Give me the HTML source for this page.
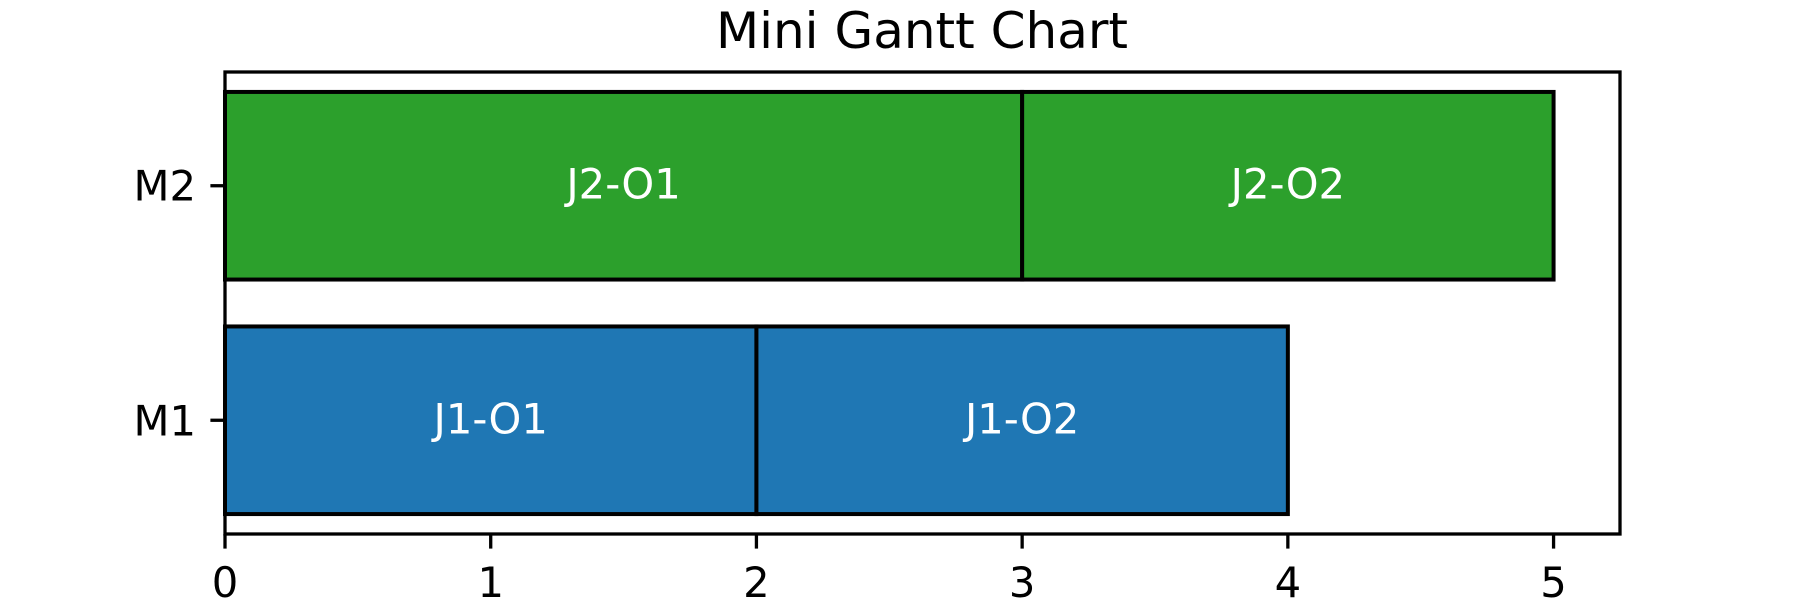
<!DOCTYPE html>
<html><head><meta charset="utf-8"><style>body{margin:0;background:#fff}svg{display:block}text{font-family:"DejaVu Sans","Liberation Sans",sans-serif}</style></head>
<body>
<svg id="chart" width="1800" height="600" viewBox="0 0 1800 600" xmlns="http://www.w3.org/2000/svg">
<text x="922" y="48" font-size="50" text-anchor="middle">Mini Gantt Chart</text>
<g id="bars"></g>
<rect x="225" y="72" width="1395" height="462" fill="none" stroke="#000" stroke-width="3.3"/>
<g id="ticks"></g>
</svg>
<script>
const machines = ["M1","M2"];
const taskLabels = ["J1-O1","J1-O2","J2-O1","J2-O2"];
const taskMachine = [0,0,1,1];
const taskStart = [0,2,0,3];
const taskDuration = [2,2,3,2];
const taskColor = ["#1f77b4","#1f77b4","#2ca02c","#2ca02c"];
const xTicks = [0,1,2,3,4,5];

const L=225,R=1620,T=72,B=534;
const xMin=0,xMax=5.25,yMin=-0.485,yMax=1.485;
const xs=v=>L+(v-xMin)/(xMax-xMin)*(R-L);
const ys=v=>B-(v-yMin)/(yMax-yMin)*(B-T);
const NS="http://www.w3.org/2000/svg";
const bars=document.getElementById('bars'), ticks=document.getElementById('ticks');
function mk(tag,attrs,parent){const e=document.createElementNS(NS,tag);for(const k in attrs)e.setAttribute(k,attrs[k]);parent.appendChild(e);return e;}
taskLabels.forEach((lab,i)=>{
  const m=taskMachine[i];
  const x0=xs(taskStart[i]),x1=xs(taskStart[i]+taskDuration[i]);
  const y0=ys(m+0.4),y1=ys(m-0.4);
  const r=mk('rect',{x:x0,y:y0,width:x1-x0,height:y1-y0,fill:taskColor[i],stroke:'#000','stroke-width':4},bars);
  
  
  const t=mk('text',{x:(x0+x1)/2,y:ys(m)+13,'font-size':41.7,fill:'#fff','text-anchor':'middle'},bars);
  t.textContent=lab;
  
  
});
xTicks.forEach(v=>{
  const x=xs(v);
  const l=mk('line',{x1:x,x2:x,y1:B,y2:B+14.6,stroke:'#000','stroke-width':3.3},ticks);
  
  
  const t=mk('text',{x:x,y:B+63,'font-size':41.7,'text-anchor':'middle'},ticks);
  t.textContent=v;
  
  
});
machines.forEach((m,i)=>{
  const y=ys(i);
  const l=mk('line',{x1:L-14.6,x2:L,y1:y,y2:y,stroke:'#000','stroke-width':3.3},ticks);
  
  
  const t=mk('text',{x:L-29,y:y+15,'font-size':41.7,'text-anchor':'end'},ticks);
  t.textContent=m;
  
  
});
</script>
</body></html>
